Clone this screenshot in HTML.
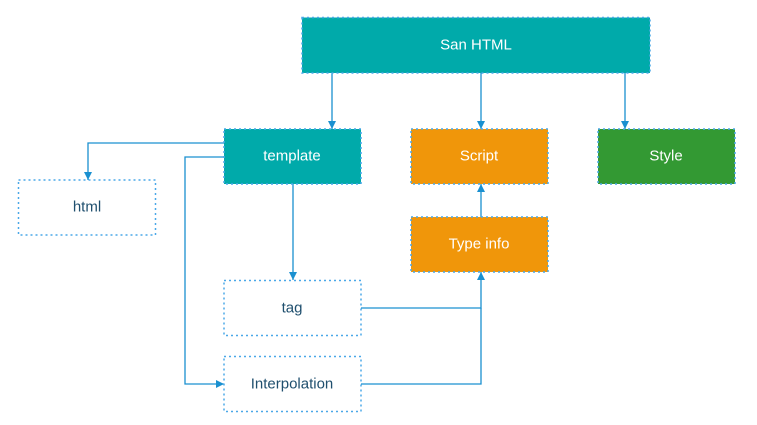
<!DOCTYPE html>
<html><head><meta charset="utf-8"><style>
html,body{margin:0;padding:0;background:#fff;width:757px;height:425px;overflow:hidden}
text{font-family:"Liberation Sans",sans-serif;font-size:15px;text-anchor:middle;dominant-baseline:central}
</style></head><body>
<svg width="757" height="425" xmlns="http://www.w3.org/2000/svg">
<defs>
<marker id="r" markerWidth="10" markerHeight="10" refX="9" refY="5" orient="auto" markerUnits="userSpaceOnUse" viewBox="0 0 10 10"><path d="M1,1 L9,5 L1,9 Z" fill="#1a90d0"/></marker></defs>
<g fill="none" stroke="#1a90d0" stroke-width="1.3">
<path d="M332,73V129" marker-end="url(#r)"/>
<path d="M481,73V129" marker-end="url(#r)"/>
<path d="M625,73V129" marker-end="url(#r)"/>
<path d="M224,143H88V180" marker-end="url(#r)"/>
<path d="M224,157H185V384H224" marker-end="url(#r)"/>
<path d="M293,184V280" marker-end="url(#r)"/>
<path d="M361,308H481V272" marker-end="url(#r)"/>
<path d="M361,384H481V308"/>
<path d="M481,217V184" marker-end="url(#r)"/>
</g>
<g stroke="#4aa8e8" stroke-width="1.5" stroke-dasharray="2,3">
<rect x="302" y="17.5" width="348" height="55.5" fill="#00aaaa"/>
<rect x="224" y="129" width="137" height="55" fill="#00aaaa"/>
<rect x="411" y="129" width="137" height="55" fill="#f0960a"/>
<rect x="598" y="129" width="137" height="55" fill="#339933"/>
<rect x="411" y="217" width="137" height="55" fill="#f0960a"/>
<rect x="18.5" y="180" width="137" height="55" fill="#fff"/>
<rect x="224" y="280.5" width="137" height="55" fill="#fff"/>
<rect x="224" y="356.5" width="137" height="55" fill="#fff"/>
</g>
<g fill="#fff">
<text x="476" y="45">San HTML</text>
<text x="292" y="156">template</text>
<text x="479" y="156">Script</text>
<text x="666" y="156">Style</text>
<text x="479" y="244">Type info</text>
</g>
<g fill="#1f4f6e">
<text x="87" y="207">html</text>
<text x="292" y="308">tag</text>
<text x="292" y="384">Interpolation</text>
</g>
</svg>
</body></html>
